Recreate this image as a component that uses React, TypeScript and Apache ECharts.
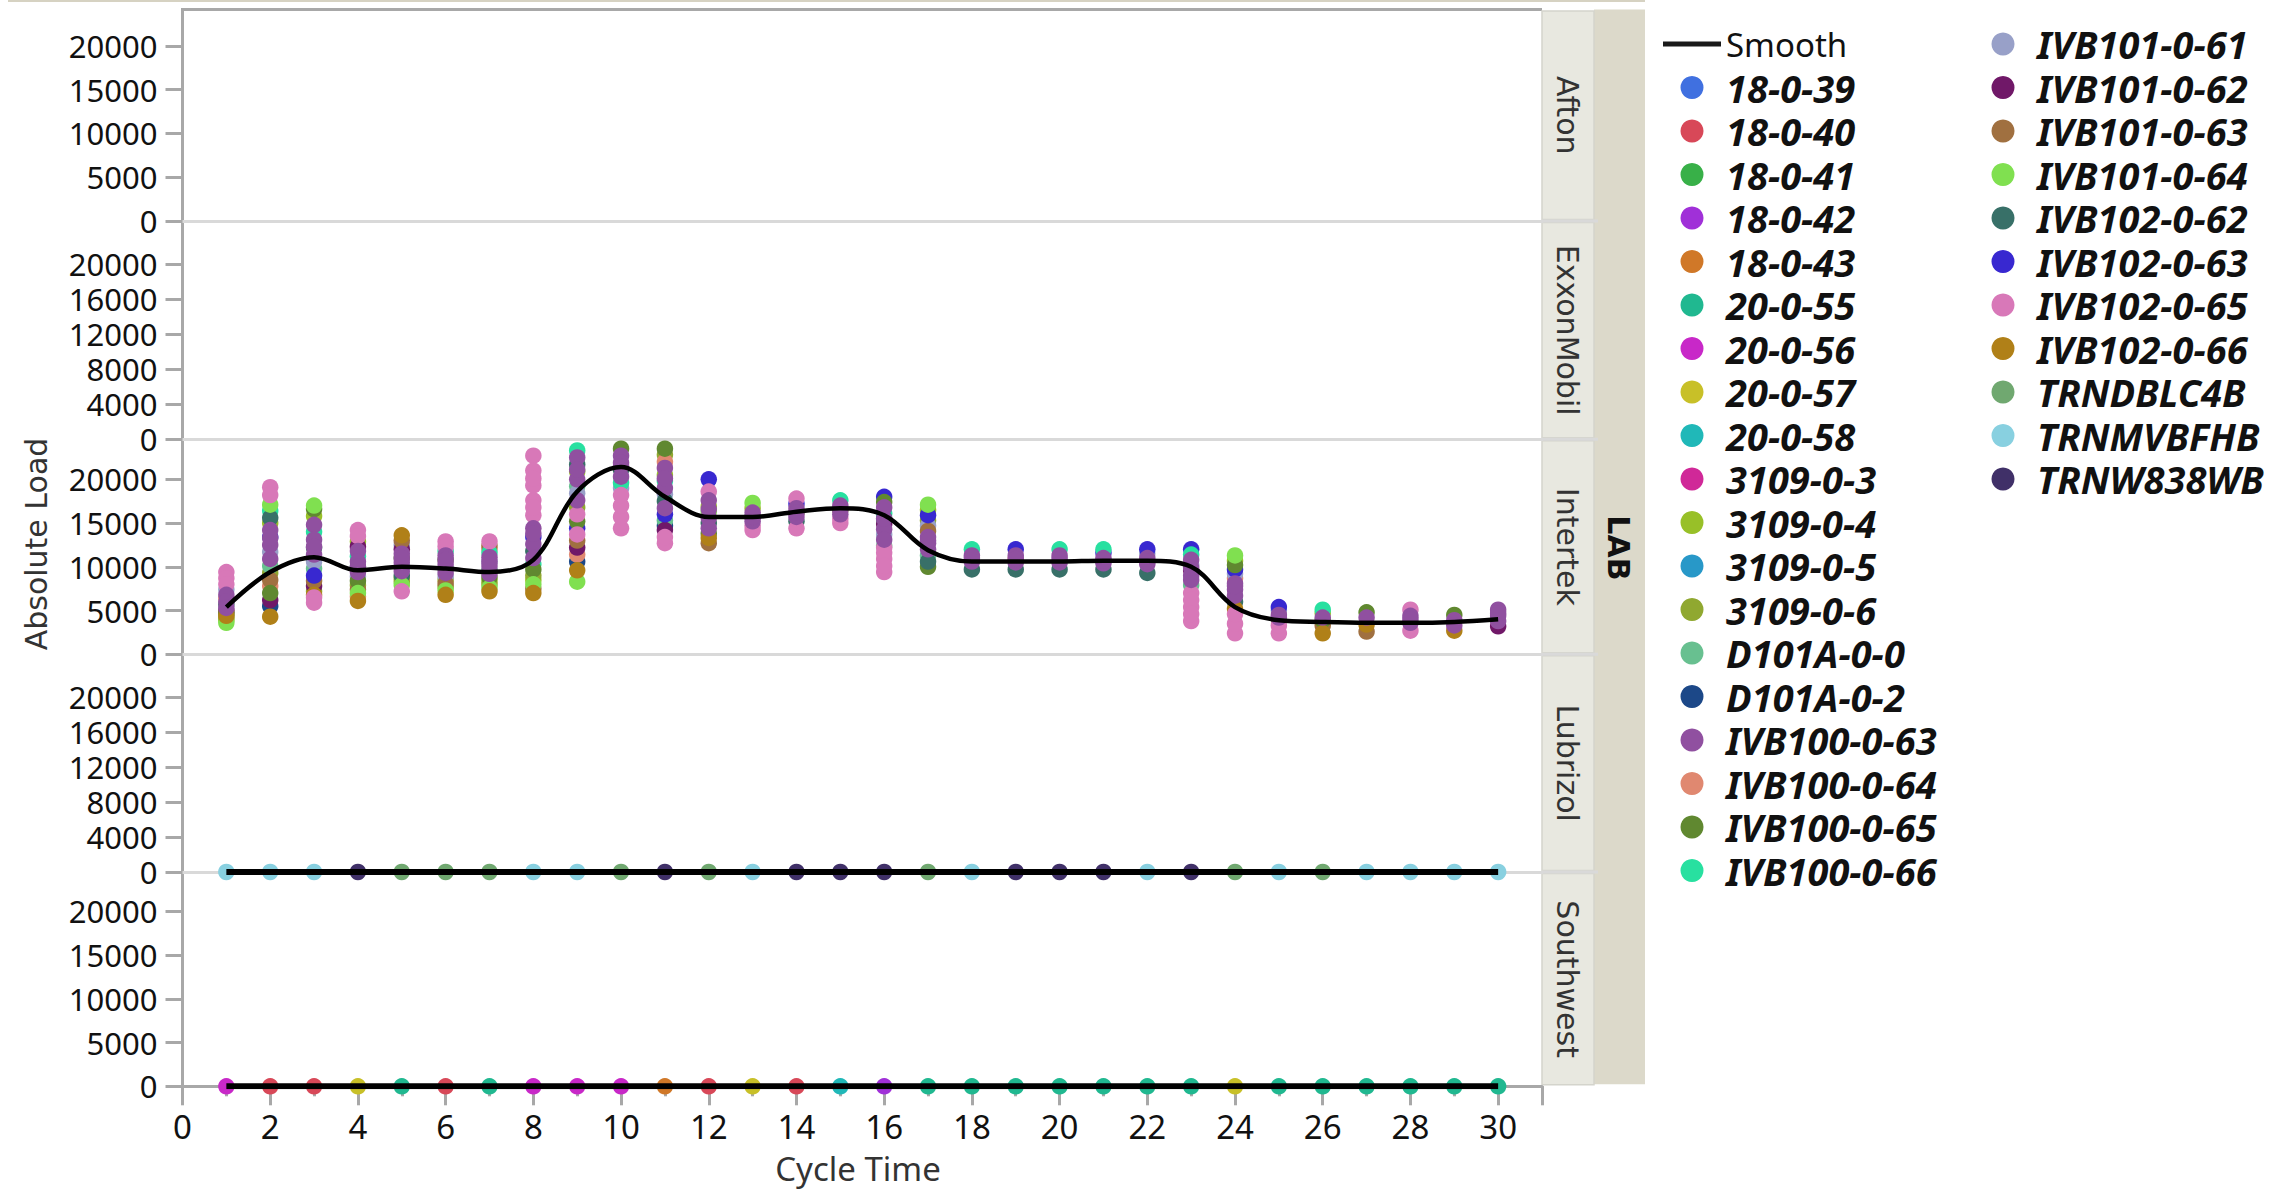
import React, { useEffect, useRef } from 'react';
import * as echarts from 'echarts';

const _ = null;

// ---------- axes / labels ----------
const cycles = [1, 2, 3, 4, 5, 6, 7, 8, 9, 10, 11, 12, 13, 14, 15, 16, 17, 18, 19, 20, 21, 22, 23, 24, 25, 26, 27, 28, 29, 30];
const xTicks = [0, 2, 4, 6, 8, 10, 12, 14, 16, 18, 20, 22, 24, 26, 28, 30];
const yTicks5k = [0, 5000, 10000, 15000, 20000];
const yTicks4k = [0, 4000, 8000, 12000, 16000, 20000];
const panelLabels = ['Afton', 'ExxonMobil', 'Intertek', 'Lubrizol', 'Southwest'];
const outerStripLabel = 'LAB';
const xTitle = 'Cycle Time';
const yTitle = 'Absolute Load';
const smoothName = 'Smooth';

const legendColumn1 = ['18-0-39', '18-0-40', '18-0-41', '18-0-42', '18-0-43', '20-0-55', '20-0-56', '20-0-57', '20-0-58',
  '3109-0-3', '3109-0-4', '3109-0-5', '3109-0-6', 'D101A-0-0', 'D101A-0-2', 'IVB100-0-63', 'IVB100-0-64', 'IVB100-0-65', 'IVB100-0-66'];
const legendColumn2 = ['IVB101-0-61', 'IVB101-0-62', 'IVB101-0-63', 'IVB101-0-64', 'IVB102-0-62', 'IVB102-0-63', 'IVB102-0-65',
  'IVB102-0-66', 'TRNDBLC4B', 'TRNMVBFHB', 'TRNW838WB'];

// ---------- smooth lines ----------
const smoothIntertek = [5400, 9400, 11100, 9600, 10000, 9800, 9400, 10800, 18600, 21400, 18000, 15700, 15700, 16300, 16700,
  15900, 11900, 10600, 10600, 10600, 10700, 10700, 10000, 5400, 3900, 3700, 3600, 3600, 3700, 4000];
const smoothLubrizol = [0, 0, 0, 0, 0, 0, 0, 0, 0, 0, 0, 0, 0, 0, 0, 0, 0, 0, 0, 0, 0, 0, 0, 0, 0, 0, 0, 0, 0, 0];
const smoothSouthwest = [0, 0, 0, 0, 0, 0, 0, 0, 0, 0, 0, 0, 0, 0, 0, 0, 0, 0, 0, 0, 0, 0, 0, 0, 0, 0, 0, 0, 0, 0];

// ---------- Intertek (one value per cycle 1..30) ----------
const int3109_0_4 = [3900, 15000, 15800, 12900, 8700, 8500, 8400, 8500, 20900, _, 20500, 16900, 16700, _, 16500, _, 16500, _, _, _, _, _, _, 10700, _, 4700, _, _, _, _];
const intD101A_0_2 = [_, 5500, _, _, _, _, _, _, 10600, _, 14700, _, _, _, _, _, _, _, _, _, _, _, _, _, _, _, _, _, _, _];
const int3109_0_6 = [4200, 9300, 7200, 7900, 8300, 7700, 8000, 9000, 16800, _, 22800, _, _, _, _, _, 15300, _, _, _, _, _, _, _, _, _, _, _, _, _];
const intD101A_0_0 = [_, 10100, 9800, _, _, _, _, _, 19200, _, 15300, _, _, _, _, 12400, 11300, _, _, _, _, _, 7900, _, _, _, _, _, _, _];
const intIVB100_0_64 = [6400, 7800, _, 6600, _, _, 12000, _, 11400, _, 22000, _, _, _, _, _, _, _, 10900, _, _, _, _, 8700, _, _, _, _, _, _];
const intIVB101_0_61 = [7400, 11700, 10600, 8900, 12500, 8900, 10600, _, 18400, 19000, 18300, _, _, _, _, 13700, 14700, _, _, _, _, 11500, 10200, 9200, 5000, _, _, _, _, _];
const intIVB101_0_62 = [5000, 6200, 7800, 12300, 12000, _, _, _, 12200, _, 14200, _, _, _, _, 14900, _, _, _, _, _, _, 9600, _, _, _, _, _, _, 3200];
const intIVB101_0_63 = [4800, 8500, 8400, 7400, 13000, 8100, 12400, 7500, 13000, _, _, 12700, _, _, _, _, 14100, _, _, _, _, _, _, _, _, 3300, 2600, _, _, _];
const intIVB102_0_63 = [_, 13400, 9000, _, _, _, _, 13400, 14400, _, 16000, 20000, _, 17200, _, 18000, 15900, _, 12000, _, 11600, 12000, 12000, 9700, 5400, _, _, _, _, _];
const intIVB100_0_66 = [_, 16400, 14000, 11200, 10000, 11800, 11600, 10300, 23300, 19600, 19800, _, _, _, 17600, 16100, _, 12000, _, 12000, 12000, _, 11400, _, _, 5100, _, _, _, _];
const intIVB100_0_65 = [4600, 7000, 16600, 8400, 11000, 10800, 8800, 9700, 15200, 23500, 23500, 13800, _, 16200, _, 17400, 10000, _, _, _, _, _, _, 10200, 4000, 3900, 4800, _, 4500, _];
const intIVB102_0_62 = [5700, 15600, 12200, 10000, 9000, 9800, 9600, 11800, 21700, 21100, 17500, 15000, 15700, 15200, _, 15500, 10600, 9700, 9700, 9700, 9700, 9300, _, 6000, _, _, _, _, _, _];
const intIVB101_0_64 = [3600, 17100, 17000, 7000, 7900, 7300, 7600, 8000, 8300, _, _, 16300, 17300, _, _, _, 17100, _, _, _, _, _, _, 11300, _, _, _, _, _, _];
const intIVB102_0_66 = [4400, 4300, 6800, 6100, 13600, 6800, 7200, 7000, 9600, _, _, 13300, _, _, _, _, _, _, _, _, _, _, _, 5200, _, 2400, 3400, _, 2700, _];
const intIVB102_0_65a = [9400, 19100, 6500, 14200, 7200, 12900, 12900, 22700, 16000, 14400, 12700, 18600, 14200, 17800, 15000, 9400, _, _, _, _, _, _, 3800, 2400, 2400, _, _, 2700, _, _];
const intIVB102_0_65b = [8700, 18200, 5900, 13500, _, 12300, _, 21000, 13700, 15700, 13400, _, 14700, 14400, 15500, 10900, _, _, _, _, _, _, 5400, 3500, 3300, _, _, 5100, _, _];
const intIVB102_0_65c = [8000, _, _, _, _, _, _, 19300, _, 17000, _, _, _, _, _, 12200, _, _, _, _, _, _, 7000, 4600, _, _, _, _, _, _];
const intIVB102_0_65d = [_, _, _, _, _, _, _, 17600, _, 18200, _, _, _, _, _, _, _, _, _, _, _, _, _, _, _, _, _, _, _, _];
const intIVB102_0_65e = [_, _, _, _, _, _, _, 15900, _, _, _, _, _, _, _, _, _, _, _, _, _, _, 6200, _, _, _, _, _, _, _];
const intIVB102_0_65f = [_, _, _, _, _, _, _, 20100, _, _, _, _, _, _, _, 11600, _, _, _, _, _, _, 4600, _, _, _, _, _, _, _];
const intIVB102_0_65g = [_, _, _, _, _, _, _, 16800, _, _, _, _, _, _, _, 10100, _, _, _, _, _, _, _, _, _, _, _, _, _, _];
const intIVB100_0_63a = [6800, 14200, 14800, 11800, 11500, 11300, 11100, 14400, 22500, 22700, 21300, 17600, 16200, 16700, 17000, 16800, 13400, 11300, 11300, 11300, 11000, 11000, 10800, 8100, 4500, 4200, 4200, 4400, 3900, 5100];
const intIVB100_0_63b = [6000, 12500, 13100, 10600, 10500, 10300, 10100, 12600, 20000, 21900, 19000, 15600, 15200, 15700, 16000, 14300, 12700, 10600, 10500, 10500, 10400, 10300, 9000, 7400, _, _, _, 3600, 3300, 4400];
const intIVB100_0_63c = [5300, 10900, 11400, 9400, 9500, 9300, 9200, 11000, 17600, 20300, 16700, 14400, _, _, _, 13100, 12000, _, _, _, _, _, 8500, 6700, _, _, _, _, _, 3800];
const intIVB100_0_63d = [_, 13300, 12300, 10000, 11000, 10800, 10600, 13800, 21100, 21500, 20100, 16600, 15700, 16200, 16500, 15500, 13000, 11000, 10900, 10900, 10700, 10600, 9900, 7800, 4200, _, _, 4000, _, 4700];

// ---------- Lubrizol ----------
const lubTRNMVBFHB = [0, 0, 0, _, _, _, _, 0, 0, _, _, _, 0, _, _, _, _, 0, _, _, _, 0, _, _, 0, _, 0, 0, 0, 0];
const lubTRNW838WB = [_, _, _, 0, _, _, _, _, _, _, 0, _, _, 0, 0, 0, _, _, 0, 0, 0, _, 0, _, _, _, _, _, _, _];
const lubTRNDBLC4B = [_, _, _, _, 0, 0, 0, _, _, 0, _, 0, _, _, _, _, 0, _, _, _, _, _, _, 0, _, 0, _, _, _, _];

// ---------- Southwest ----------
const sw20_0_56 = [0, _, _, _, _, _, _, 0, 0, 0, _, _, _, _, _, _, _, _, _, _, _, _, _, _, _, _, _, _, _, _];
const sw18_0_40 = [_, 0, 0, _, _, 0, _, _, _, _, _, 0, _, 0, _, _, _, _, _, _, _, _, _, _, _, _, _, _, _, _];
const sw20_0_57 = [_, _, _, 0, _, _, _, _, _, _, _, _, 0, _, _, _, _, _, _, _, _, _, _, 0, _, _, _, _, _, _];
const sw20_0_55 = [_, _, _, _, 0, _, 0, _, _, _, _, _, _, _, _, _, 0, 0, 0, 0, 0, 0, 0, _, 0, 0, 0, 0, 0, 0];
const sw18_0_43 = [_, _, _, _, _, _, _, _, _, _, 0, _, _, _, _, _, _, _, _, _, _, _, _, _, _, _, _, _, _, _];
const sw20_0_58 = [_, _, _, _, _, _, _, _, _, _, _, _, _, _, 0, _, _, _, _, _, _, _, _, _, _, _, _, _, _, _];
const sw18_0_42 = [_, _, _, _, _, _, _, _, _, _, _, _, _, _, _, 0, _, _, _, _, _, _, _, _, _, _, _, _, _, _];
const noValues: (number | null)[] = [];

// ---------- colours ----------
const seriesColors: Record<string, string> = {
  '18-0-39': '#4070e0', '18-0-40': '#d84858', '18-0-41': '#38b048', '18-0-42': '#a030d8', '18-0-43': '#d07828',
  '20-0-55': '#20b890', '20-0-56': '#c828c8', '20-0-57': '#c8c028', '20-0-58': '#20b8b8',
  '3109-0-3': '#d02898', '3109-0-4': '#98c028', '3109-0-5': '#2898c8', '3109-0-6': '#90a830',
  'D101A-0-0': '#68c090', 'D101A-0-2': '#1c4888',
  'IVB100-0-63': '#9050a0', 'IVB100-0-64': '#e08870', 'IVB100-0-65': '#608830', 'IVB100-0-66': '#28e0a0',
  'IVB101-0-61': '#98a0c8', 'IVB101-0-62': '#701868', 'IVB101-0-63': '#a07040', 'IVB101-0-64': '#80e050',
  'IVB102-0-62': '#387068', 'IVB102-0-63': '#3828d0', 'IVB102-0-65': '#d878b8', 'IVB102-0-66': '#b08018',
  'TRNDBLC4B': '#70a870', 'TRNMVBFHB': '#88d0e0', 'TRNW838WB': '#403068',
};

// panel index: 2 Intertek, 3 Lubrizol, 4 Southwest
const scatterDefs: [string, number, (number | null)[]][] = [
  ['3109-0-4', 2, int3109_0_4],
  ['D101A-0-2', 2, intD101A_0_2],
  ['3109-0-6', 2, int3109_0_6],
  ['D101A-0-0', 2, intD101A_0_0],
  ['IVB100-0-64', 2, intIVB100_0_64],
  ['IVB101-0-61', 2, intIVB101_0_61],
  ['IVB101-0-62', 2, intIVB101_0_62],
  ['IVB101-0-63', 2, intIVB101_0_63],
  ['IVB102-0-63', 2, intIVB102_0_63],
  ['IVB100-0-66', 2, intIVB100_0_66],
  ['IVB100-0-65', 2, intIVB100_0_65],
  ['IVB102-0-62', 2, intIVB102_0_62],
  ['IVB101-0-64', 2, intIVB101_0_64],
  ['IVB102-0-66', 2, intIVB102_0_66],
  ['IVB102-0-65', 2, intIVB102_0_65a],
  ['IVB102-0-65', 2, intIVB102_0_65b],
  ['IVB102-0-65', 2, intIVB102_0_65c],
  ['IVB102-0-65', 2, intIVB102_0_65d],
  ['IVB102-0-65', 2, intIVB102_0_65e],
  ['IVB102-0-65', 2, intIVB102_0_65f],
  ['IVB102-0-65', 2, intIVB102_0_65g],
  ['IVB100-0-63', 2, intIVB100_0_63a],
  ['IVB100-0-63', 2, intIVB100_0_63b],
  ['IVB100-0-63', 2, intIVB100_0_63c],
  ['IVB100-0-63', 2, intIVB100_0_63d],
  ['TRNMVBFHB', 3, lubTRNMVBFHB],
  ['TRNW838WB', 3, lubTRNW838WB],
  ['TRNDBLC4B', 3, lubTRNDBLC4B],
  ['20-0-56', 4, sw20_0_56],
  ['18-0-40', 4, sw18_0_40],
  ['20-0-57', 4, sw20_0_57],
  ['20-0-55', 4, sw20_0_55],
  ['18-0-43', 4, sw18_0_43],
  ['20-0-58', 4, sw20_0_58],
  ['18-0-42', 4, sw18_0_42],
  ['18-0-39', 4, noValues],
  ['18-0-41', 4, noValues],
  ['3109-0-3', 4, noValues],
  ['3109-0-5', 4, noValues],
];

// ---------- layout ----------
const GRID_LEFT = 182.5;
const GRID_RIGHT_EDGE = 1542;
const PANEL_TOPS = [9.5, 221, 439.3, 654.3, 872];
const PANEL_HEIGHTS = [211.5, 218.3, 215, 217.7, 214.3];
const Y_MAX = [24170, 24950, 24570, 24880, 24490];
const X_MAX = 31;
const AXIS_GRAY = '#a8a8a8';
const PANEL_LINE = '#d9d9d9';
const TEXT = '#111111';

const toPoints = (vals: (number | null)[]) =>
  cycles.map((c, i) => (vals[i] == null ? null : [c, vals[i]])).filter((p) => p !== null);

function buildOption(): any {
  const grids = PANEL_TOPS.map((t, i) => ({
    left: GRID_LEFT, top: t, width: GRID_RIGHT_EDGE - GRID_LEFT, height: PANEL_HEIGHTS[i], containLabel: false,
  }));

  const xAxes: any[] = PANEL_TOPS.map((_t, i) => ({
    type: 'value', gridIndex: i, min: 0, max: X_MAX, interval: 2, position: 'bottom',
    axisLine: { show: true, onZero: false, lineStyle: { color: i === 4 ? AXIS_GRAY : PANEL_LINE, width: 3 } },
    axisTick: { show: i === 4, length: 19, lineStyle: { color: AXIS_GRAY, width: 3 } },
    axisLabel: {
      show: i === 4, customValues: xTicks, margin: 24, fontSize: 33, fontFamily: 'Noto Sans', color: TEXT,
      formatter: (v: number) => String(v),
    },
    splitLine: { show: false },
  }));
  xAxes.push({
    type: 'value', gridIndex: 4, min: 0, max: X_MAX, interval: 1, position: 'bottom',
    axisLine: { show: false },
    axisTick: { show: true, length: 10, lineStyle: { color: AXIS_GRAY, width: 3 } },
    axisLabel: { show: false },
    splitLine: { show: false },
  });

  const yAxes = PANEL_TOPS.map((_t, i) => {
    const ticks = i === 1 || i === 3 ? yTicks4k : yTicks5k;
    return {
      type: 'value', gridIndex: i, min: 0, max: Y_MAX[i],
      axisLine: { show: true, onZero: false, lineStyle: { color: AXIS_GRAY, width: 3 } },
      axisTick: { show: true, length: 17, customValues: ticks, lineStyle: { color: AXIS_GRAY, width: 3 } },
      axisLabel: {
        customValues: ticks, margin: 25, fontSize: 31, lineHeight: 30, fontFamily: 'Noto Sans', color: TEXT,
        formatter: (v: number) => String(v),
      },
      splitLine: { show: false },
    };
  });

  const series: any[] = scatterDefs.map(([name, panel, vals]) => ({
    type: 'scatter', name, xAxisIndex: panel, yAxisIndex: panel,
    data: toPoints(vals), symbol: 'circle', symbolSize: 16.5, clip: true,
    itemStyle: { color: seriesColors[name], opacity: 1 },
  }));

  const smoothDefs: [number, (number | null)[], number][] = [
    [2, smoothIntertek, 4.5],
    [3, smoothLubrizol, 6],
    [4, smoothSouthwest, 6],
  ];
  smoothDefs.forEach(([panel, vals, w]) => {
    series.push({
      type: 'line', name: smoothName, xAxisIndex: panel, yAxisIndex: panel,
      data: toPoints(vals), smooth: 0.35, symbol: 'none', showSymbol: false, clip: true, z: 5,
      itemStyle: { color: '#1a1a1a' }, lineStyle: { color: '#000000', width: w },
    });
  });

  const legendText = {
    fontFamily: 'Noto Sans', fontSize: 38, fontStyle: 'italic', fontWeight: 'bold', color: TEXT, lineHeight: 43.5,
  };
  const legend = [
    {
      data: [{ name: smoothName, icon: 'rect' }], orient: 'vertical', left: 1663, top: 22.25, padding: 0,
      itemWidth: 58, itemHeight: 5, itemGap: 0,
      textStyle: { fontFamily: 'Noto Sans', fontSize: 33, color: TEXT, lineHeight: 43.5 },
    },
    {
      data: legendColumn1.map((n) => ({ name: n, icon: 'circle' })), orient: 'vertical', left: 1680.5, top: 65.75,
      padding: 0, itemWidth: 58, itemHeight: 23, itemGap: 0, textStyle: legendText,
    },
    {
      data: legendColumn2.map((n) => ({ name: n, icon: 'circle' })), orient: 'vertical', left: 1991.5, top: 22.25,
      padding: 0, itemWidth: 58, itemHeight: 23, itemGap: 0, textStyle: legendText,
    },
  ];

  const bottom = PANEL_TOPS[4] + PANEL_HEIGHTS[4];
  const graphics: any[] = [
    { type: 'rect', silent: true, shape: { x: 8, y: 0, width: 1637, height: 2 }, style: { fill: '#d6d2c2' } },
    { type: 'rect', silent: true, shape: { x: GRID_LEFT - 1.5, y: PANEL_TOPS[0] - 1.5, width: GRID_RIGHT_EDGE - GRID_LEFT + 1.5, height: 3 }, style: { fill: AXIS_GRAY } },
    { type: 'rect', silent: true, shape: { x: 1594, y: PANEL_TOPS[0], width: 51, height: bottom - PANEL_TOPS[0] - 2 }, style: { fill: '#dcd9ca' } },
  ];
  PANEL_TOPS.forEach((t, i) => {
    graphics.push({
      type: 'rect', silent: true,
      shape: { x: GRID_RIGHT_EDGE, y: t + 1.5, width: 52, height: PANEL_HEIGHTS[i] - 3 },
      style: { fill: '#e8e8e0', stroke: '#d4d4cc', lineWidth: 1.5 },
    });
    graphics.push({
      type: 'text', silent: true, x: 1567, y: t + PANEL_HEIGHTS[i] / 2, rotation: -Math.PI / 2,
      style: { text: panelLabels[i], fontFamily: 'DejaVu Sans', fontSize: 30, fill: '#333333', align: 'center', verticalAlign: 'middle' },
    });
    if (i > 0) {
      graphics.push({
        type: 'rect', silent: true, shape: { x: GRID_RIGHT_EDGE, y: t - 1.5, width: 56, height: 3 }, style: { fill: PANEL_LINE },
      });
    }
  });
  graphics.push({
    type: 'text', silent: true, x: 1618, y: (PANEL_TOPS[0] + bottom) / 2, rotation: -Math.PI / 2,
    style: { text: outerStripLabel, fontFamily: 'DejaVu Sans', fontSize: 30, fontWeight: 'bold', fill: '#111111', align: 'center', verticalAlign: 'middle' },
  });
  graphics.push({
    type: 'text', silent: true, x: 36, y: 544, rotation: Math.PI / 2,
    style: { text: yTitle, fontFamily: 'DejaVu Sans', fontSize: 30, fill: '#333333', align: 'center', verticalAlign: 'middle' },
  });
  graphics.push({
    type: 'text', silent: true, x: 858, y: 1168,
    style: { text: xTitle, fontFamily: 'Noto Sans', fontSize: 33, lineHeight: 33, fill: '#333333', align: 'center', verticalAlign: 'middle' },
  });

  return {
    animation: false,
    backgroundColor: '#ffffff',
    textStyle: { fontFamily: 'Noto Sans' },
    grid: grids,
    xAxis: xAxes,
    yAxis: yAxes,
    legend,
    series,
    graphic: { elements: graphics },
  };
}

export default function App() {
  const ref = useRef<HTMLDivElement | null>(null);
  useEffect(() => {
    if (!ref.current) return;
    const chart = echarts.init(ref.current, undefined, { renderer: 'svg' });
    chart.setOption(buildOption());
    return () => chart.dispose();
  }, []);
  return (
    <div
      ref={ref}
      style={{ position: 'absolute', left: 0, top: 0, width: 2287, height: 1192, background: '#ffffff' }}
    />
  );
}
